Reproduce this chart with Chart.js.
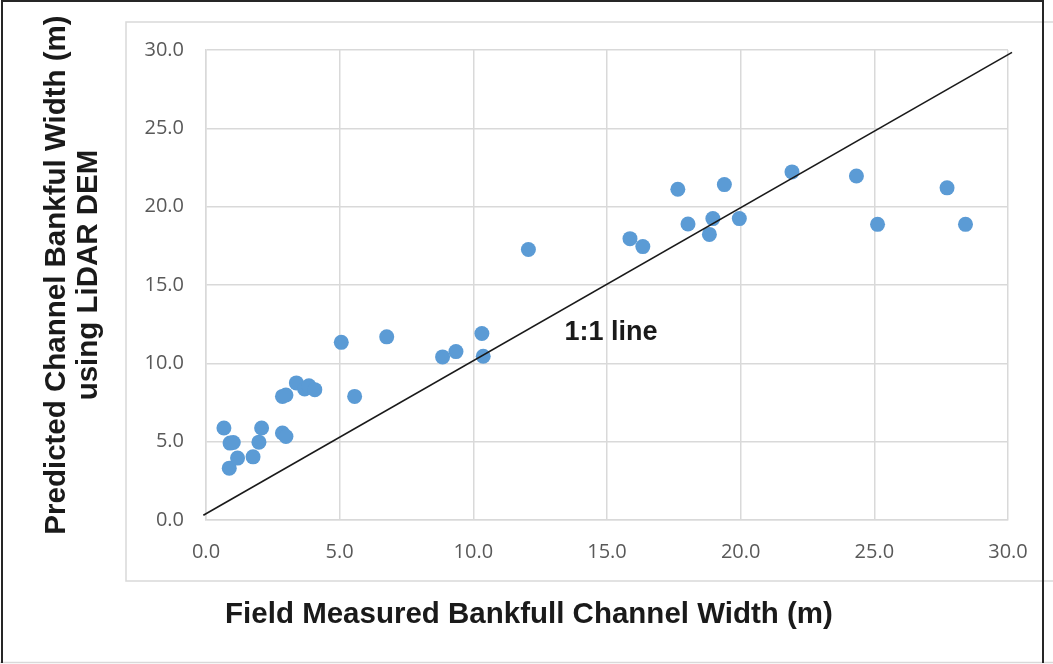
<!DOCTYPE html>
<html>
<head>
<meta charset="utf-8">
<title>Predicted vs field measured bankfull width</title>
<script src="https://cdn.jsdelivr.net/npm/chart.js@4.4.1/dist/chart.umd.min.js"></script>
<style>
  html, body { margin: 0; padding: 0; background: #fff; }
  canvas { display: block; }
</style>
</head>
<body>
<canvas id="chart" width="1053" height="664"></canvas>
<script>
// field measured width (x) and LiDAR predicted width (y), metres
const fieldWidth = [0.67, 0.90, 1.02, 0.87, 1.18, 1.76, 1.98, 2.08, 2.86, 2.99,
                    2.86, 2.99, 3.38, 3.69, 3.85, 4.07, 5.06, 5.56, 6.76, 8.85,
                    9.35, 10.32, 10.37, 12.06, 15.86, 16.34, 17.65, 19.39, 18.03, 18.96,
                    18.83, 19.95, 21.92, 24.33, 27.72, 25.12, 28.41];
const predictedWidth = [5.87, 4.91, 4.95, 3.31, 3.95, 4.03, 4.97, 5.87, 5.55, 5.33,
                        7.89, 7.98, 8.75, 8.36, 8.57, 8.32, 11.34, 7.89, 11.69, 10.41,
                        10.75, 11.90, 10.45, 17.27, 17.96, 17.45, 21.11, 21.41, 18.89, 19.24,
                        18.23, 19.24, 22.22, 21.96, 21.20, 18.87, 18.87];

// the drawn "1:1" reference line
const lineX = [-0.1, 30.15];
const lineY = [0.3, 29.85];
const lineLabel = '1:1 line';
const lineLabelAt = [15.15, 11.95];

const axisMin = 0;
const axisMax = 30;
const axisStep = 5;

const xTitle = 'Field Measured Bankfull Channel Width (m)';
const yTitle = ['Predicted Channel Bankful Width (m)', 'using LiDAR DEM'];

const boldFont = '"Liberation Sans", Arial, sans-serif';
const tickFont = { family: '"Open Sans", sans-serif', size: 20 };

// frame lines, background, axis titles and the "1:1 line" text
const framePlugin = {
  id: 'frame',
  beforeDraw(chart) {
    const ctx = chart.ctx;
    ctx.save();
    ctx.fillStyle = '#fff';
    ctx.fillRect(0, 0, chart.width, chart.height);
    ctx.strokeStyle = '#d9d9d9';
    ctx.lineWidth = 1.5;
    ctx.strokeRect(126, 22, 940, 559);
    ctx.beginPath();
    ctx.moveTo(0, 662.5);
    ctx.lineTo(1053, 662.5);
    ctx.stroke();
    ctx.strokeStyle = '#262626';
    ctx.lineWidth = 2;
    ctx.beginPath();
    ctx.moveTo(2, 663);
    ctx.lineTo(2, 1);
    ctx.lineTo(1043, 1);
    ctx.lineTo(1043, 663);
    ctx.stroke();
    ctx.restore();
  },
  afterDraw(chart) {
    const ctx = chart.ctx;
    ctx.save();
    ctx.fillStyle = '#1a1a1a';
    ctx.textAlign = 'center';
    ctx.textBaseline = 'middle';

    ctx.font = 'bold 29.5px ' + boldFont;
    ctx.fillText(xTitle, 529, 615);

    ctx.save();
    ctx.translate(0, 275);
    ctx.rotate(-Math.PI / 2);
    ctx.fillText(yTitle[0], 0, 57);
    ctx.fillText(yTitle[1], 0, 89);
    ctx.restore();

    const x = chart.scales.x.getPixelForValue(lineLabelAt[0]);
    const y = chart.scales.y.getPixelForValue(lineLabelAt[1]);
    ctx.font = 'bold 27px ' + boldFont;
    ctx.fillText(lineLabel, x, y);
    ctx.restore();
  }
};

const gridStyle = { color: '#d9d9d9', lineWidth: 1.5, drawTicks: false, tickLength: 0 };

new Chart(document.getElementById('chart'), {
  type: 'scatter',
  data: {
    datasets: [
      {
        label: '1:1',
        data: lineX.map((v, i) => ({ x: v, y: lineY[i] })),
        showLine: true,
        borderColor: '#1a1a1a',
        borderWidth: 1.6,
        pointRadius: 0,
        clip: false
      },
      {
        label: 'sites',
        data: fieldWidth.map((v, i) => ({ x: v, y: predictedWidth[i] })),
        backgroundColor: '#5b9bd5',
        borderWidth: 0,
        pointRadius: 7.5,
        pointHoverRadius: 7.5
      }
    ]
  },
  options: {
    responsive: false,
    devicePixelRatio: 1,
    animation: false,
    layout: { padding: { left: 0, top: 50, right: 45, bottom: 0 } },
    plugins: { legend: { display: false }, tooltip: { enabled: false } },
    scales: {
      x: {
        min: axisMin, max: axisMax,
        grid: gridStyle,
        border: { color: '#d9d9d9', width: 1.5 },
        ticks: {
          stepSize: axisStep, padding: 20, color: '#595959', font: tickFont,
          maxRotation: 0, callback: v => v.toFixed(1)
        },
        afterFit(scale) { scale.height = 144; }
      },
      y: {
        min: axisMin, max: axisMax,
        grid: gridStyle,
        border: { color: '#d9d9d9', width: 1.5 },
        ticks: {
          stepSize: axisStep, padding: 22, color: '#595959', font: tickFont,
          callback: v => v.toFixed(1)
        },
        afterFit(scale) { scale.width = 206; }
      }
    }
  },
  plugins: [framePlugin]
});
</script>
</body>
</html>
